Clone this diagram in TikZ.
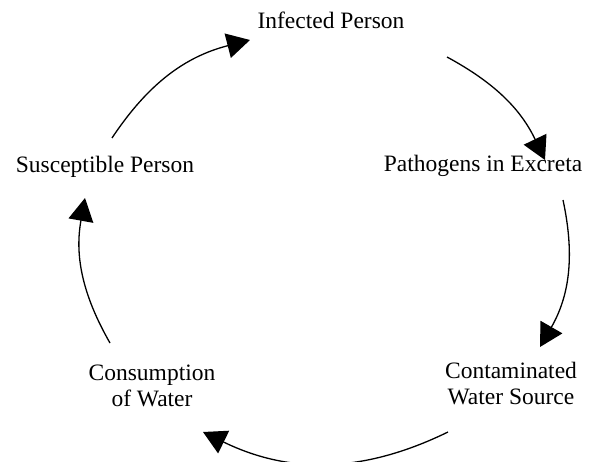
\documentclass[tikz,border=0pt]{standalone}
\usepackage{fontspec}
\setmainfont{Liberation Serif}
\usetikzlibrary{arrows.meta}

\begin{document}
\begin{tikzpicture}[x=1pt,y=1pt,
    txt/.style={inner sep=0pt,align=center,font=\fontsize{23.5}{26}\selectfont},
    flow/.style={line width=1.3pt,-{Triangle[length=23pt,width=25pt]}}]
\useasboundingbox (0,0) rectangle (591,461);

\node[txt,anchor=base] (inf)  at (331,432) {Infected Person};
\node[txt,anchor=base] (path) at (483,289) {Pathogens in Excreta};
\node[txt]             (cont) at (511,77)  {Contaminated\\Water Source};
\node[txt]             (cons) at (152,75)  {Consumption\\of Water};
\node[txt,anchor=base] (sus)  at (105,288) {Susceptible Person};

\coordinate (sus-out)  at (112,323);
\coordinate (inf-in)   at (250,421);
\coordinate (inf-out)  at (447,404);
\coordinate (path-in)  at (545,301);
\coordinate (path-out) at (563,261);
\coordinate (cont-in)  at (540,114);
\coordinate (cont-out) at (448,29);
\coordinate (cons-in)  at (203,29);
\coordinate (cons-out) at (110,118);
\coordinate (sus-in)   at (85,263);

\draw[flow] (sus-out)  to[bend left=21] (inf-in);
\draw[flow] (inf-out)  to[bend left=18] (path-in);
\draw[flow] (path-out) to[bend left=21] (cont-in);
\draw[flow] (cont-out) to[bend left=26] (cons-in);
\draw[flow] (cons-out) to[bend left=20] (sus-in);
\end{tikzpicture}
\end{document}
